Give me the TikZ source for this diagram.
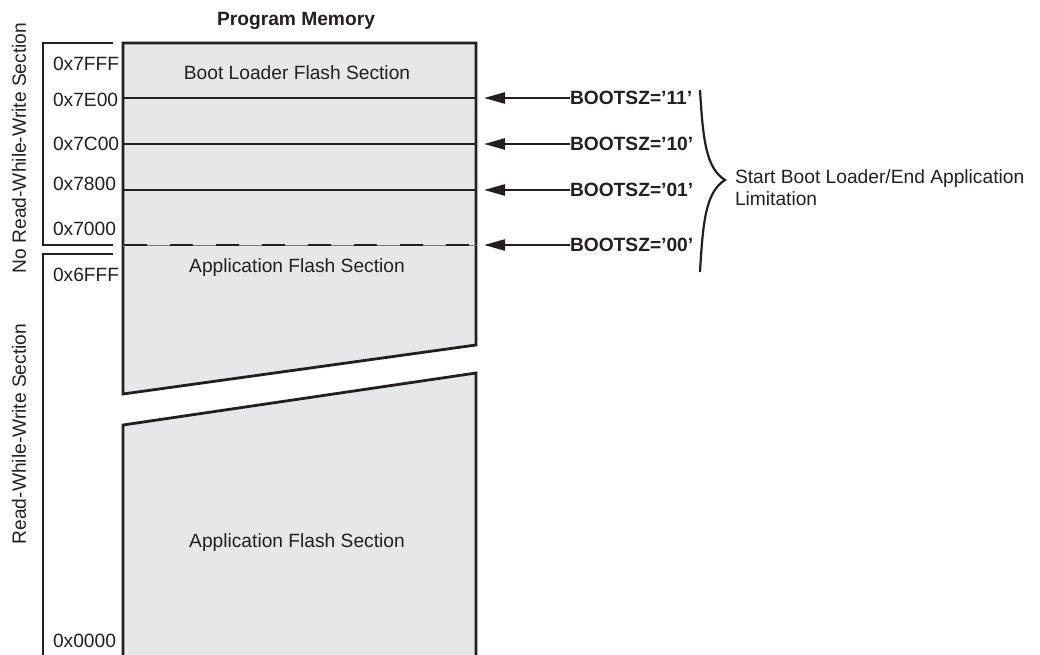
\documentclass[tikz,border=0pt]{standalone}
\usepackage{fontspec}
\setmainfont{Liberation Sans}
\usetikzlibrary{arrows.meta}
\definecolor{ink}{HTML}{231F20}
\definecolor{memfill}{HTML}{E6E7E8}
\begin{document}
\begin{tikzpicture}[x=1pt,y=-1pt,
  every node/.style={inner sep=0pt,outer sep=0pt,text=ink,font=\fontsize{19.2}{22}\selectfont},
  bold/.style={font=\fontsize{19.2}{22}\selectfont\bfseries},
  memblock/.style={draw=ink,fill=memfill,line width=2.8pt,line join=miter},
  divline/.style={draw=ink,line width=2.4pt},
  bracket/.style={draw=ink,line width=2.6pt,line join=miter},
  addr/.style={anchor=west},
  arr/.style={draw=ink,line width=2.4pt,-{Triangle[length=21pt,width=11pt]}},
  bracecurve/.style={draw=ink,line width=2.2pt}]
\useasboundingbox (0,0) rectangle (1040,655);
% memory blocks
\path[memblock] (123,43) -- (476,43) -- (476,345) -- (123,394) -- cycle;
\path[memblock] (123,425) -- (476,373) -- (476,670) -- (123,670) -- cycle;
% divider lines
\draw[divline] (123,98) -- (476,98);
\draw[divline] (123,144) -- (476,144);
\draw[divline] (123,190) -- (476,190);
\draw[draw=ink!60,line width=0.8pt] (123,245) -- (476,245);
\draw[draw=ink,line width=2.8pt,dash pattern=on 23pt off 23pt] (124,245) -- (474,245);
% brackets
\draw[bracket] (113,43) -- (43,43) -- (43,245) -- (113,245);
\draw[bracket] (113,254) -- (43,254) -- (43,670);
% side labels
\node[rotate=90] (nrww) at (19,148) {No Read-While-Write Section};
\node[rotate=90] (rww) at (19,434) {Read-While-Write Section};
% addresses
\node[addr] (a1) at (53,64) {0x7FFF};
\node[addr] (a2) at (53,100) {0x7E00};
\node[addr] (a3) at (53,144) {0x7C00};
\node[addr] (a4) at (53,184) {0x7800};
\node[addr] (a5) at (53,229) {0x7000};
\node[addr] (a6) at (53,275) {0x6FFF};
\node[addr] (a7) at (53,641) {0x0000};
% titles
\node[bold,anchor=base] (title) at (296,26) {Program Memory};
\node[anchor=base] (boot) at (297,80) {Boot Loader Flash Section};
\node[anchor=base] (app1) at (297,272) {Application Flash Section};
\node[anchor=base] (app2) at (297,547) {Application Flash Section};
% BOOTSZ arrows
\node[bold,anchor=west] (b11) at (570,98) {BOOTSZ=’11’};
\node[bold,anchor=west] (b10) at (570,144) {BOOTSZ=’10’};
\node[bold,anchor=west] (b01) at (570,190) {BOOTSZ=’01’};
\node[bold,anchor=west] (b00) at (570,245) {BOOTSZ=’00’};
\coordinate (t11) at (484,98);
\coordinate (t10) at (484,144);
\coordinate (t01) at (484,190);
\coordinate (t00) at (484,245);
\draw[arr] (b11.west) -- (t11);
\draw[arr] (b10.west) -- (t10);
\draw[arr] (b01.west) -- (t01);
\draw[arr] (b00.west) -- (t00);
% brace
\coordinate (bt) at (700,90);
\coordinate (btip) at (725,180);
\coordinate (bb) at (700,272);
\draw[bracecurve] (bt) .. controls (703,140) and (706,168) .. (btip) .. controls (706,192) and (703,220) .. (bb);
\node[anchor=base west] (lim1) at (735,183) {Start Boot Loader/End Application};
\node[anchor=base west] (lim2) at (735,205) {Limitation};
\end{tikzpicture}
\end{document}
